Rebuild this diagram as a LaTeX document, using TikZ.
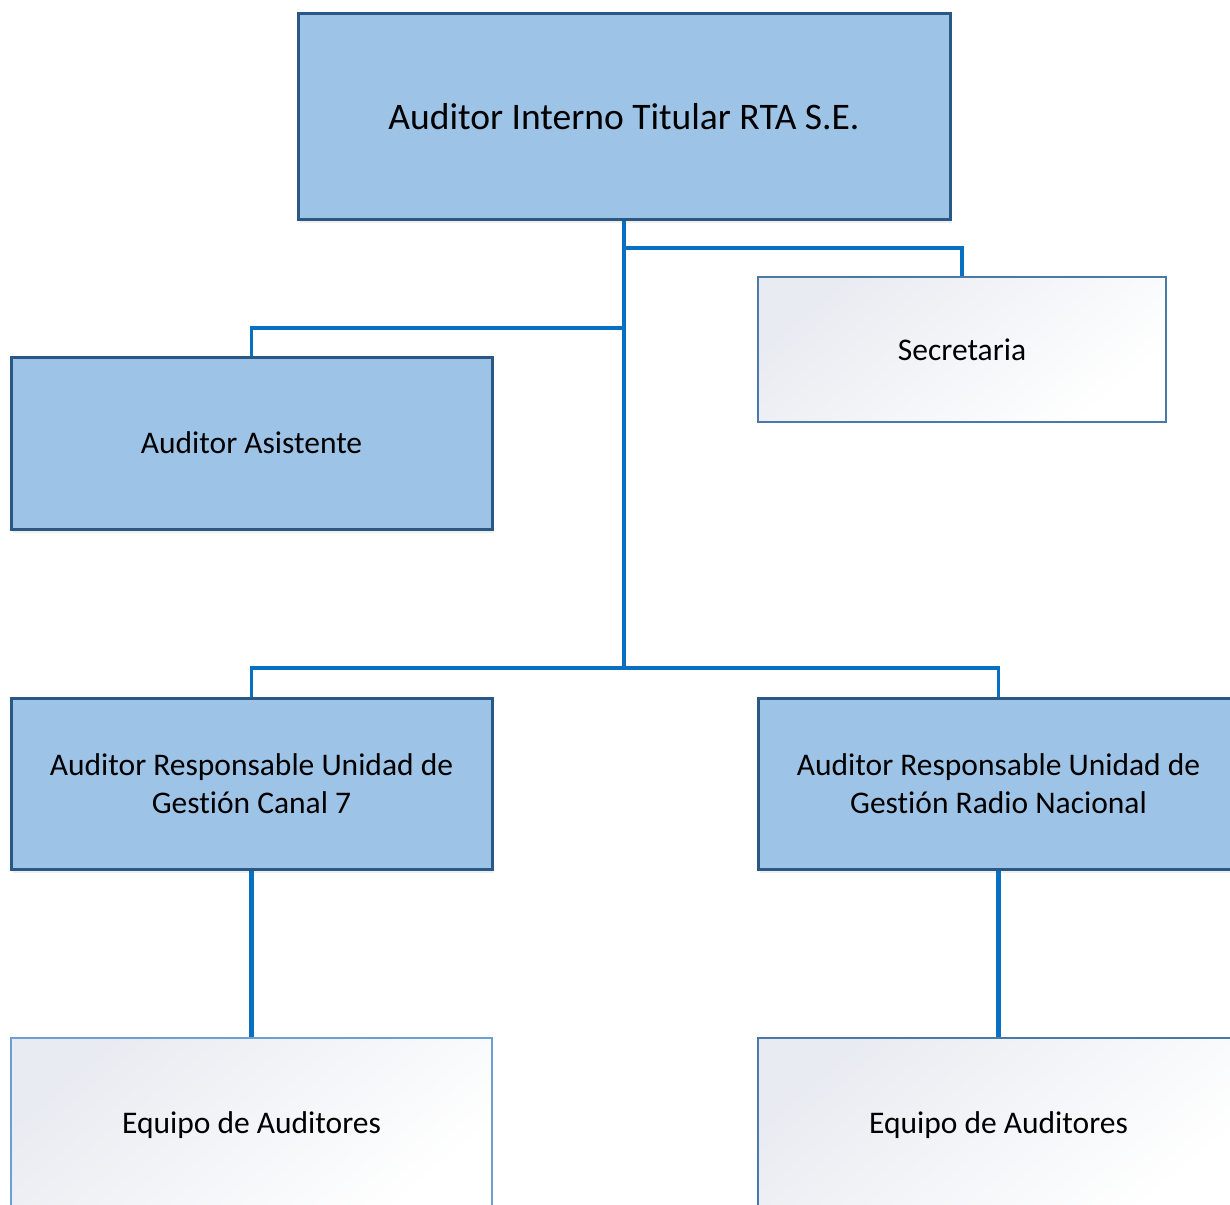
\documentclass[tikz,border=0pt]{standalone}
\usepackage{fontspec}
\setmainfont[Ligatures=NoCommon]{Carlito}
\usetikzlibrary{shadows}
\definecolor{boxblue}{HTML}{9DC3E6}
\definecolor{boxedge}{HTML}{2A5783}
\definecolor{linkblue}{HTML}{0870C2}
\definecolor{lightedge}{HTML}{4A79A8}
\definecolor{lightedgeb}{HTML}{6C9FD2}
\definecolor{shadeA}{HTML}{E8EBF1}
\tikzset{
  bluebox/.style={draw=boxedge, line width=3pt, fill=boxblue, inner sep=0pt,
    align=center, font=\fontsize{31.5}{38}\selectfont,
    drop shadow={opacity=0.12, shadow xshift=2pt, shadow yshift=-4pt}},
  lightbox/.style={draw=lightedge, line width=1.6pt, inner sep=0pt,
    top color=shadeA, bottom color=white, shading angle=40,
    align=center, font=\fontsize{31.5}{38}\selectfont},
  link/.style={draw=linkblue, line width=3.5pt},
  linkthick/.style={draw=linkblue, line width=5pt}
}
\begin{document}
\begin{tikzpicture}[x=1pt,y=-1pt]
\useasboundingbox (0,0) rectangle (1230,1204);
\clip (0,0) rectangle (1230,1204);
\fill[white] (0,0) rectangle (1230,1204);
% nodes
\node[bluebox, minimum width=652pt, minimum height=205pt, font=\fontsize{37.5}{44}\selectfont] (top) at (624,116.5) {Auditor Interno Titular RTA S.E.};
\node[lightbox, minimum width=408pt, minimum height=145pt] (sec) at (962,349.5) {Secretaria};
\node[bluebox, minimum width=481pt, minimum height=172pt] (asi) at (251.5,443) {Auditor Asistente};
\node[bluebox, minimum width=481pt, minimum height=171pt] (cn) at (251.5,783.5) {Auditor Responsable Unidad de\\Gestión Canal 7};
\node[bluebox, minimum width=481pt, minimum height=171pt] (rn) at (998.5,783.5) {Auditor Responsable Unidad de\\Gestión Radio Nacional};
\node[lightbox, draw=lightedgeb, minimum width=481pt, minimum height=174pt] (eq1) at (251.5,1125) {Equipo de Auditores};
\node[lightbox, minimum width=481pt, minimum height=174pt] (eq2) at (998.5,1125) {Equipo de Auditores};
% junctions
\coordinate (js) at (624,248);
\coordinate (ja) at (624,328);
\coordinate (bus) at (624,668);
% connectors
\draw[link] (top.south) -- (bus);
\draw[link] (js) -| (sec.north);
\draw[link] (ja) -| (asi.north);
\draw[link] (cn.north) |- (bus) -| (rn.north);
\draw[linkthick] (cn.south) -- (eq1.north);
\draw[linkthick] (rn.south) -- (eq2.north);
\end{tikzpicture}
\end{document}
